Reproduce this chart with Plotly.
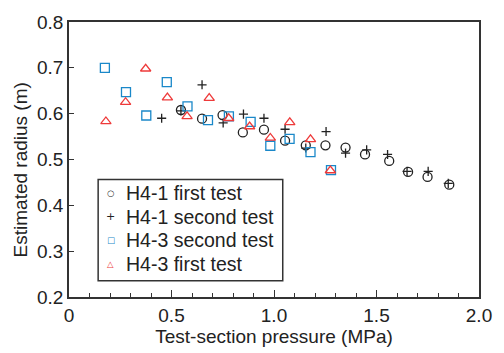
import plotly.graph_objects as go

# H4-1 first test (circles)
h41_first_x = [0.546, 0.649, 0.749, 0.848, 0.951, 1.054, 1.155, 1.251, 1.349, 1.444, 1.562, 1.654, 1.749, 1.855]
h41_first_y = [0.608, 0.589, 0.597, 0.559, 0.565, 0.541, 0.531, 0.531, 0.526, 0.511, 0.497, 0.473, 0.462, 0.445]

# H4-1 second test (plus)
h41_second_x = [0.452, 0.546, 0.649, 0.752, 0.851, 0.951, 1.054, 1.155, 1.254, 1.349, 1.452, 1.554, 1.649, 1.752, 1.850]
h41_second_y = [0.590, 0.606, 0.663, 0.580, 0.599, 0.590, 0.566, 0.525, 0.561, 0.514, 0.521, 0.511, 0.474, 0.474, 0.448]

# H4-3 second test (squares)
h43_second_x = [0.175, 0.278, 0.377, 0.477, 0.578, 0.678, 0.780, 0.886, 0.982, 1.076, 1.178, 1.278]
h43_second_y = [0.700, 0.647, 0.596, 0.669, 0.616, 0.586, 0.594, 0.582, 0.530, 0.545, 0.516, 0.477]

# H4-3 first test (triangles)
h43_first_x = [0.180, 0.276, 0.374, 0.480, 0.576, 0.684, 0.779, 0.881, 0.982, 1.077, 1.178, 1.275]
h43_first_y = [0.583, 0.625, 0.698, 0.635, 0.594, 0.634, 0.590, 0.572, 0.547, 0.581, 0.544, 0.476]

series_names = ["H4-1 first test", "H4-1 second test", "H4-3 second test", "H4-3 first test"]

x_tickvals = [0, 0.5, 1.0, 1.5, 2.0]
x_ticktext = ["0", "0.5", "1.0", "1.5", "2.0"]
y_tickvals = [0.2, 0.3, 0.4, 0.5, 0.6, 0.7, 0.8]
y_ticktext = ["0.2", "0.3", "0.4", "0.5", "0.6", "0.7", "0.8"]

BLACK = "#222222"
BLUE = "#1a88c9"
RED = "#ee3a3a"
FONT = "Liberation Sans, Arial, sans-serif"
SYMFONT = "DejaVu Sans"

series = [
    (series_names[0], h41_first_x, h41_first_y, "circle-open", 9, BLACK, "\u25CB"),
    (series_names[1], h41_second_x, h41_second_y, "cross-thin-open", 6.5, BLACK, "+"),
    (series_names[2], h43_second_x, h43_second_y, "square-open", 9, BLUE, "\u25A1"),
    (series_names[3], h43_first_x, h43_first_y, "triangle-up-open", 9, RED, "\u25B3"),
]

fig = go.Figure()
for name, xs, ys, sym, size, col, glyph in series:
    fig.add_trace(go.Scatter(
        x=xs, y=ys, mode="markers", name=name, showlegend=False,
        marker=dict(symbol=sym, size=size, color=col, line=dict(color=col, width=1.3)),
    ))

# manual legend (box + glyphs + labels), positioned in paper coordinates
PLOT_L, PLOT_R, PLOT_T, PLOT_B = 69, 491, 18, 306
def px(xp):
    return (xp - PLOT_L) / (PLOT_R - PLOT_L)
def py(yp):
    return (PLOT_B - yp) / (PLOT_B - PLOT_T)

fig.add_shape(type="rect", xref="paper", yref="paper",
              x0=px(99), x1=px(289), y0=py(289), y1=py(183),
              line=dict(color="#333333", width=1.5), fillcolor="white", layer="above")
row_y = [197, 222, 246.5, 271]
for (name, xs, ys, sym, size, col, glyph), ry in zip(series, row_y):
    fig.add_annotation(xref="paper", yref="paper", x=px(112), y=py(ry),
                       text=glyph, showarrow=False, xanchor="center", yanchor="middle",
                       font=dict(family=SYMFONT, size=8.5 if glyph != "+" else 11, color=col))
    fig.add_annotation(xref="paper", yref="paper", x=px(126), y=py(ry),
                       text=name, showarrow=False, xanchor="left", yanchor="middle",
                       font=dict(family=FONT, size=19.5, color="#222222"))

# y-axis title
fig.add_annotation(xref="paper", yref="paper", x=px(19), y=py(173),
                   text="Estimated radius (m)", textangle=-90, showarrow=False,
                   xanchor="center", yanchor="middle",
                   font=dict(family=FONT, size=19, color="#222222"))

axis_common = dict(
    showline=True, linecolor="#333333", linewidth=1.5, mirror=True,
    ticks="inside", tickcolor="#333333", tickwidth=1.3,
    showgrid=False, zeroline=False,
    tickfont=dict(family=FONT, size=19, color="#222222"),
)

fig.update_layout(
    width=504, height=353,
    margin=dict(l=69, r=13, t=18, b=47),
    paper_bgcolor="white", plot_bgcolor="white",
    font=dict(family=FONT, size=19, color="#222222"),
    showlegend=False,
    xaxis=dict(
        range=[0, 2.0], tickvals=x_tickvals, ticktext=x_ticktext, ticklen=7,
        minor=dict(dtick=0.1, ticks="inside", ticklen=4, tickcolor="#333333", tickwidth=1.3),
        title=dict(text="Test-section pressure (MPa)", font=dict(family=FONT, size=19), standoff=2),
        **axis_common,
    ),
    yaxis=dict(
        range=[0.2, 0.8], tickvals=y_tickvals, ticktext=y_ticktext, ticklen=5,
        **axis_common,
    ),
)

fig.write_html("out.html")
